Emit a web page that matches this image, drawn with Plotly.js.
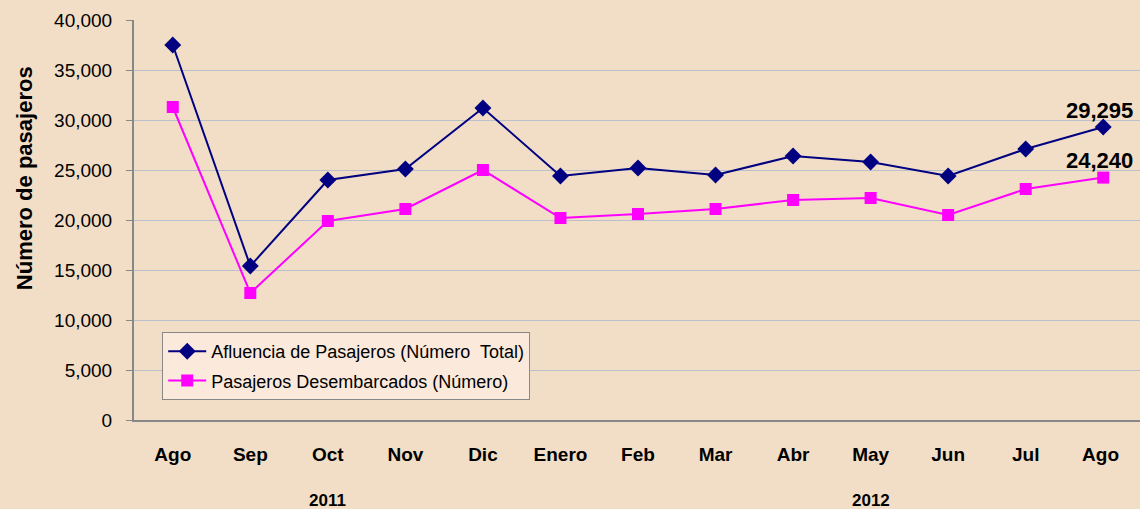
<!DOCTYPE html>
<html><head><meta charset="utf-8">
<script src="https://cdn.plot.ly/plotly-3.0.1.min.js"></script>
<style>html,body{margin:0;padding:0;overflow:hidden;background:#F2DEC6;}</style>
</head><body>
<div id="chart" style="width:1142px;height:509px;"></div>
<script>
const months = ["Ago","Sep","Oct","Nov","Dic","Enero","Feb","Mar","Abr","May","Jun","Jul","Ago "];
const afluencia = [37500,15400,24000,25100,31200,24400,25200,24500,26400,25800,24400,27100,29295];
const desembarcados = [31300,12700,19900,21100,25000,20200,20600,21100,22000,22200,20500,23100,24240];
const seriesNames = ["Afluencia de Pasajeros (Número  Total)","Pasajeros Desembarcados (Número)"];
const yearLabels = [{text:"2011", at:"Oct"},{text:"2012", at:"May"}];

const font = "Arial, 'Liberation Sans', sans-serif";
const traces = [
  {x: months, y: afluencia, name: seriesNames[0], legendgroup:"a", type:"scatter", mode:"lines+markers",
   line:{color:"#000080", width:2}, marker:{symbol:"diamond", size:13, color:"#000080"}},
  {x: months, y: desembarcados, name: seriesNames[1], legendgroup:"b", type:"scatter", mode:"lines+markers",
   line:{color:"#FF00FF", width:2}, marker:{symbol:"square", size:12, color:"#FF00FF"}}
];
const last = months.length-1;
const annotations = [
  {x: months[last], y: afluencia[last], text: afluencia[last].toLocaleString("en-US"), showarrow:false,
   yshift:17, xshift:-4, font:{family:font, size:22, color:"#000", weight:"bold"}},
  {x: months[last], y: desembarcados[last], text: desembarcados[last].toLocaleString("en-US"), showarrow:false,
   yshift:17, xshift:-4, font:{family:font, size:22, color:"#000", weight:"bold"}},
  {xref:"paper", yref:"paper", x:-0.109, xanchor:"center", y:0.605, yanchor:"middle", text:"Número de pasajeros", textangle:-90, showarrow:false,
   font:{family:font, size:22, color:"#000", weight:"bold"}}
];
yearLabels.forEach(l => annotations.push({x:l.at, yref:"paper", y:-0.2, yanchor:"middle", text:l.text, showarrow:false,
   font:{family:font, size:17, color:"#000", weight:"bold"}}));

const layout = {
  width:1142, height:509,
  margin:{l:134, r:0, t:20, b:89},
  paper_bgcolor:"#F2DEC6", plot_bgcolor:"rgba(0,0,0,0)",
  showlegend:true,
  legend:{x:0.028, y:0.22, xanchor:"left", yanchor:"top", bgcolor:"#FBE9DC", bordercolor:"#888", borderwidth:1,
    font:{family:font, size:18, color:"#000"}, tracegroupgap:3, itemwidth:38},
  xaxis:{type:"category", range:[-0.5,12.5], showgrid:false, showline:true, linecolor:"#888", linewidth:2,
    ticks:"", tickfont:{family:font, size:19, color:"#000", weight:"bold"}, ticklabelstandoff:16, fixedrange:true},
  yaxis:{range:[0,40000], dtick:5000, tickformat:",d", showgrid:true, gridcolor:"#B9BFCB", gridwidth:1,
    showline:true, linecolor:"#888", linewidth:2, ticks:"outside", ticklen:6, tickcolor:"#888",
    tickfont:{family:font, size:19, color:"#000"}, ticklabelstandoff:10, zeroline:false},
  annotations: annotations
};
Plotly.newPlot("chart", traces, layout, {displayModeBar:false, staticPlot:true});
</script>
</body></html>
